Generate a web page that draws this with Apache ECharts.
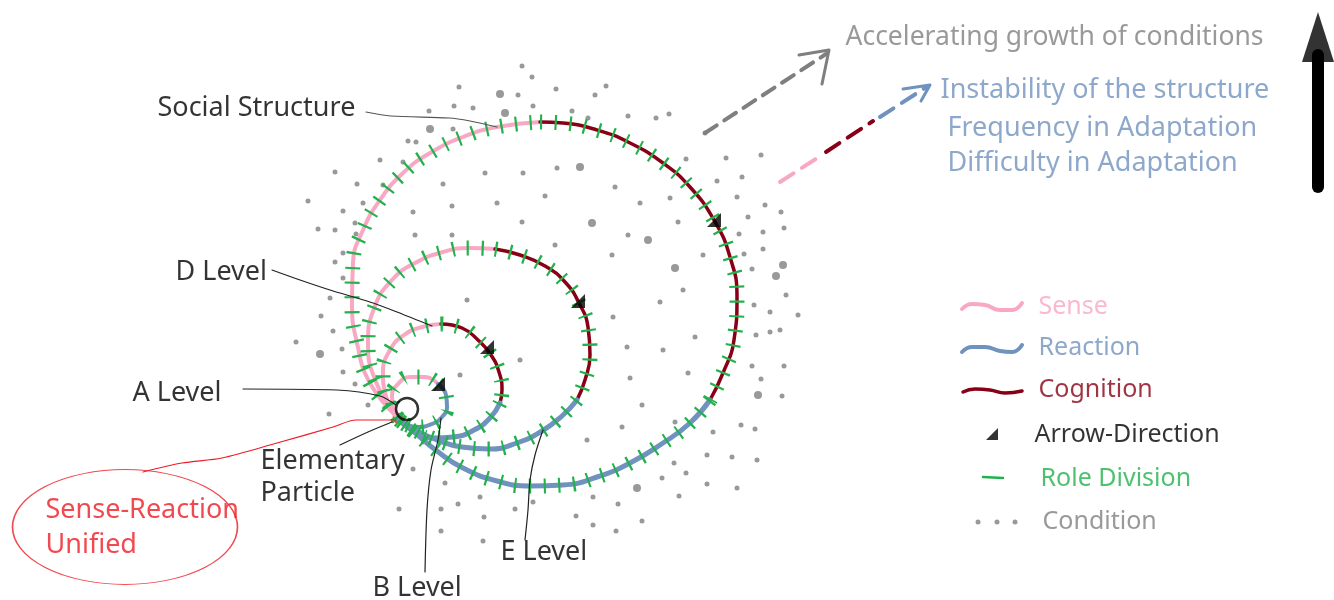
<!DOCTYPE html>
<html><head><meta charset="utf-8">
<script src="https://cdn.jsdelivr.net/npm/echarts@6/dist/echarts.min.js"></script>
<style>html,body{margin:0;padding:0;background:#fff}#c{width:1334px;height:600px}</style>
</head><body><div id="c"></div>
<script>
// ---- diagram values (x, y; y grows downward) ----
const loopB_sense     = [[398,418],[392,396],[398,384],[410,377],[425,377],[438,384]];
const loopB_reaction  = [[438,384],[446,395],[447,407],[442,417],[432,424],[418,427],[405,424],[398,419]];

const loopD_sense     = [[398,418],[386,396],[383,372],[390,350],[404,335],[422,327],[441,324]];
const loopD_cognition = [[441,324],[462,328],[478,340],[491,355],[499,372],[502,390],[500,403]];
const loopD_reaction  = [[500,403],[490,418],[474,430],[453,437],[433,438],[415,432],[398,419]];

const loopE_sense     = [[398,418],[376,382],[368,342],[375,306],[392,280],[415,263],[443,252],[470,248],[495,249]];
const loopE_cognition = [[495,249],[520,255],[545,266],[565,282],[579,303],[588,327],[590,355],[585,380],[577,400]];
const loopE_reaction  = [[577,400],[562,416],[542,431],[517,443],[490,449],[462,447],[437,440],[413,429],[398,419]];

const loopS_sense     = [[398,418],[370,383],[357,343],[352,303],[353,263],[363,230],[380,200],[403,173],[430,153],[463,137],[497,127],[540,122]];
const loopS_cognition = [[540,122],[563,123],[597,130],[630,143],[663,163],[690,187],[714,220],[730,257],[737,297],[734,340],[723,373],[710,400]];
const loopS_reaction  = [[710,400],[690,423],[663,443],[630,463],[597,477],[563,485],[530,486],[497,481],[463,468],[437,451],[413,431],[398,419]];

const arrowMarks = [[438,384],[487,347],[578,301],[714,220]];
const elementaryParticle = [[398,418]];
const aLevelCircle = [[407,409]];
const unifiedEllipse = [[125,527]];

const conditionDots = [
 [522,66],[532,77],[459,87],[518,95],[595,95],[556,89],[606,86],[454,106],[473,108],[533,106],[429,111],[572,111],
 [628,116],[656,118],[669,114],[453,129],[408,141],[416,142],[588,118],[705,133],[380,160],[403,162],[557,168],
 [686,159],[726,158],[761,155],[335,172],[357,184],[383,185],[443,184],[485,173],[523,173],[615,187],[717,181],
 [742,177],[545,196],[670,198],[737,197],[765,205],[363,203],[343,211],[452,206],[497,203],[640,203],[413,212],
 [781,212],[522,222],[678,222],[748,217],[355,223],[335,230],[356,234],[415,235],[452,235],[628,235],[763,232],
 [784,228],[555,245],[739,234],[343,253],[612,255],[703,255],[744,254],[763,249],[335,262],[752,269],[683,290],
 [786,295],[467,300],[660,302],[754,305],[613,317],[770,312],[798,315],[780,330],[756,335],[770,332],[695,337],
 [627,347],[663,350],[752,366],[784,366],[520,360],[688,373],[460,375],[630,378],[761,379],[782,396],[642,405],
 [675,422],[741,425],[755,429],[713,432],[587,440],[622,427],[707,455],[732,457],[757,460],[674,463],[686,473],
 [662,478],[707,484],[737,488],[593,497],[679,496],[618,504],[308,201],[318,229],[330,298],[321,316],[333,331],
 [296,342],[342,349],[343,372],[355,384],[368,405],[329,414],[343,278],[413,469],[445,483],[480,497],[399,509],
 [441,509],[458,504],[515,509],[533,502],[484,517],[441,531],[483,541],[576,516],[593,525],[616,531],[642,521]
];
const conditionDotsLarge = [[500,94],[505,113],[430,129],[580,167],[592,223],[648,240],[675,268],[783,265],[776,276],[758,395],[637,488],[320,354]];

const leaderSocial = [[366,112],[391,116],[449,118],[470,121],[497,127]];
const leaderD      = [[272,270],[300,280],[330,290],[370,302],[397,312],[432,326]];
const leaderA      = [[243,389],[337,390],[380,396],[396,405]];
const leaderElem   = [[340,445],[368,432],[392,422]];
const leaderB      = [[441,418],[438,440],[431,470],[427,510],[425,572]];
const leaderE      = [[543,430],[535,455],[530,480],[528,510],[525,540]];
const leaderUnified= [[396,420],[356,420],[333,427],[277,443],[222,458],[182,463],[143,472]];

const growthShaft  = [[705,133],[826,54]];
const growthHead   = [[799,55],[829,50],[822,84]];
const trendPink    = [[780,182],[822,155]];
const trendRed     = [[826,152],[873,121]];
const trendBlue    = [[880,117],[928,86]];
const trendHead    = [[903,89],[930,85],[921,101]];
const bigShaft     = [[1318,187],[1318,55]];
const bigHead      = [[1318,37]];

const keySense     = [[962,309],[972,304],[985,305],[1000,310],[1012,310],[1022,303]];
const keyReaction  = [[962,352],[972,347],[985,347],[1000,351],[1012,352],[1022,345]];
const keyCognition = [[963,392],[975,389],[990,390],[1005,393],[1022,391]];
const keyArrow     = [[992,434]];
const keyRole      = [[983,477],[1003,478]];
const keyCondition = [[978,522],[997,522],[1015,522]];

const textBlack = [['Social Structure',157,108],['D Level',175,272],['A Level',132,393],['Elementary',260,461],
                   ['Particle',260,493],['B Level',372,588],['E Level',500,552]];
const textRed   = [['Sense-Reaction',45,510],['Unified',45,545]];
const textGrey  = [['Accelerating growth of conditions',845,37]];
const textBlue  = [['Instability of the structure',940,90],['Frequency in Adaptation',947,128],['Difficulty in Adaptation',947,163]];
const keyTexts  = [['Sense',1038,307,'pink'],['Reaction',1038,348,'blue'],['Cognition',1038,390,'darkred'],
                   ['Arrow-Direction',1034,435,'black'],['Role Division',1040,479,'green'],['Condition',1042,522,'grey']];

// ---- styles ----
const PINK='#f9a8c4', BLUE='#7092be', DARKRED='#880015', GREEN='#22b14c', GREY='#7f7f7f', RED='#ed1c24', BLACK='#000';
const COLORS={pink:PINK,blue:BLUE,darkred:DARKRED,black:BLACK,green:GREEN,grey:GREY};
const FONT="'Comic Sans MS','Noto Sans',sans-serif";
const TRI='path://M10,0 L10,10 L0,10 Z';

function curve(data,color,width){return {type:'line',data,smooth:0.5,symbol:'none',silent:true,z:2,
  lineStyle:{color,width,cap:'round',join:'round'}};}
function ticks(data){return {type:'line',data,smooth:0.5,symbol:'none',silent:true,z:3,
  lineStyle:{color:GREEN,width:15,type:[2.2,12.5],cap:'butt'}};}
function thin(data,color,width,dash,smooth){return {type:'line',data,smooth:smooth===undefined?0.3:smooth,symbol:'none',silent:true,z:4,
  lineStyle:{color,width,type:dash||'solid',cap:'round',join:'round'}};}
function dots(data,size,color){return {type:'scatter',data,symbolSize:size,silent:true,z:1,itemStyle:{color:color||GREY}};}
function ring(data,size,color,bw){return {type:'scatter',data,symbol:'circle',symbolSize:size,silent:true,z:5,
  itemStyle:{color:'rgba(0,0,0,0)',borderColor:color,borderWidth:bw}};}
function texts(list,color,size){return {type:'scatter',symbolSize:1,silent:true,z:6,itemStyle:{color:'rgba(0,0,0,0)'},
  data:list.map(t=>({name:t[0],value:[t[1],t[2]],label:t[3]?{color:COLORS[t[3]]}:undefined})),
  label:{show:true,position:'right',distance:0,formatter:'{b}',color,fontSize:size,fontFamily:FONT}};}

const series=[
  dots(conditionDots,5), dots(conditionDotsLarge,8),
  curve(loopS_sense,PINK,4), curve(loopS_cognition,DARKRED,3.5), curve(loopS_reaction,BLUE,5),
  curve(loopE_sense,PINK,4), curve(loopE_cognition,DARKRED,3.5), curve(loopE_reaction,BLUE,5),
  curve(loopD_sense,PINK,4), curve(loopD_cognition,DARKRED,3.5), curve(loopD_reaction,BLUE,5),
  curve(loopB_sense,PINK,4), curve(loopB_reaction,BLUE,4),
  ticks(loopS_sense), ticks(loopS_cognition), ticks(loopS_reaction),
  ticks(loopE_sense), ticks(loopE_cognition), ticks(loopE_reaction),
  ticks(loopD_sense), ticks(loopD_cognition), ticks(loopD_reaction),
  ticks(loopB_sense), ticks(loopB_reaction),
  thin(leaderSocial,'#555',1.2), thin(leaderD,'#222',1.2), thin(leaderA,'#222',1.2), thin(leaderElem,'#222',1.2),
  thin(leaderB,'#222',1.2), thin(leaderE,'#222',1.2), thin(leaderUnified,RED,1.2),
  thin(growthShaft,GREY,4,[14,9],0), thin(growthHead,GREY,3,'solid',0),
  thin(trendPink,PINK,4,[16,10],0), thin(trendRed,DARKRED,4,[16,10],0), thin(trendBlue,BLUE,4,[16,10],0),
  thin(trendHead,BLUE,3,'solid',0),
  thin(bigShaft,BLACK,12,'solid',0),
  {type:'scatter',data:bigHead,symbol:'path://M16,0 L32,50 L0,50 Z',symbolSize:[32,50],silent:true,z:5,itemStyle:{color:BLACK}},
  {type:'scatter',data:arrowMarks,symbol:TRI,symbolSize:14,silent:true,z:7,itemStyle:{color:BLACK}},
  ring(aLevelCircle,22,BLACK,2.5),
  dots(elementaryParticle,11,RED),
  ring(unifiedEllipse,[225,115],RED,1.2),
  curve(keySense,PINK,4), curve(keyReaction,BLUE,4), curve(keyCognition,DARKRED,3.5),
  {type:'scatter',data:keyArrow,symbol:TRI,symbolSize:12,silent:true,z:7,itemStyle:{color:BLACK}},
  thin(keyRole,GREEN,2.5,'solid',0), dots(keyCondition,5),
  texts(textBlack,BLACK,27), texts(textRed,RED,27), texts(textGrey,GREY,26.5), texts(textBlue,BLUE,27),
  texts(keyTexts,BLACK,25)
];
series.forEach(s=>{s.animation=false;});

const chart=echarts.init(document.getElementById('c'));
chart.setOption({
  animation:false,
  backgroundColor:'#fff',
  grid:{left:0,right:0,top:0,bottom:0},
  xAxis:{type:'value',min:0,max:1334,show:false},
  yAxis:{type:'value',min:0,max:600,inverse:true,show:false},
  series
});
</script></body></html>
